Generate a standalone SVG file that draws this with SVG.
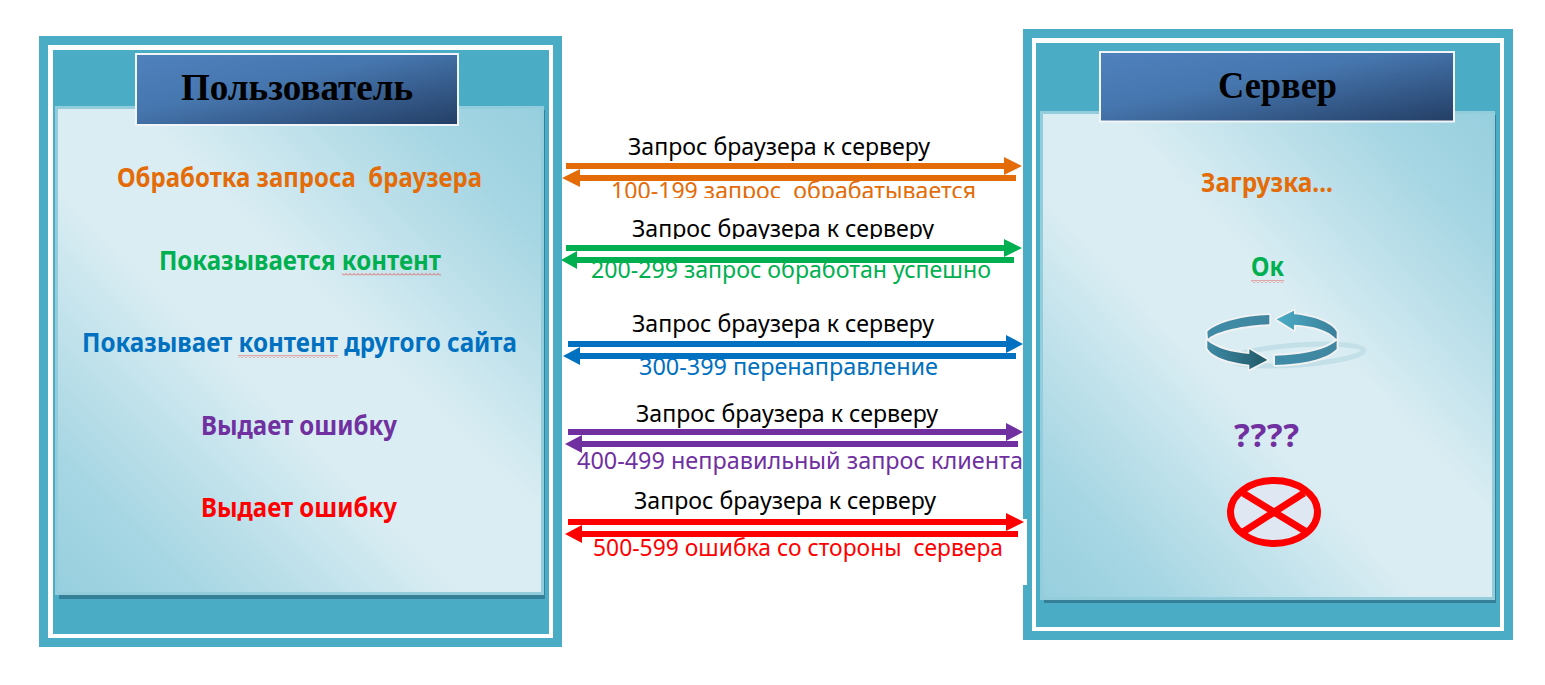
<svg xmlns="http://www.w3.org/2000/svg" width="1545" height="685" viewBox="0 0 1545 685">
<style>
.frame{fill:#4BACC6}
.gap{fill:#fff}
.shadow{fill:#367F98}
.panel{fill:url(#panelGrad);stroke:#93CDDC;stroke-width:3}
.titlebox{fill:url(#titleGrad);stroke:#F2F5F8;stroke-width:4;paint-order:stroke}
.title{font-family:"Liberation Serif",serif;font-weight:700;fill:#000;font-size:37px}
.t{font-family:"Noto Sans","Open Sans",sans-serif;font-size:23px;white-space:pre}
.b{font-family:"Noto Sans","Open Sans",sans-serif;font-size:26px;font-weight:700;white-space:pre}
.k{fill:#000}.o{fill:#E36C09}.g{fill:#00B050}.bl{fill:#0070C0}.p{fill:#7030A0}.r{fill:#FF0000}
.wave{fill:url(#wave)}
.band{stroke:#F2F2F2;stroke-width:11;paint-order:stroke;stroke-linejoin:round}
</style>
<defs>
<linearGradient id="panelGrad" x1="1" y1="0" x2="0" y2="1">
<stop offset="0" stop-color="#97CFDE"/><stop offset=".14" stop-color="#A6D6E3"/><stop offset=".42" stop-color="#DAEDF3"/><stop offset=".58" stop-color="#DAEDF3"/><stop offset=".86" stop-color="#A6D6E3"/><stop offset="1" stop-color="#97CFDE"/>
</linearGradient>
<linearGradient id="titleGrad" x1="0" y1="0" x2="1" y2="1">
<stop offset="0" stop-color="#4F81BD"/><stop offset=".42" stop-color="#4676AE"/><stop offset="1" stop-color="#243F66"/>
</linearGradient>
<linearGradient id="c1" x1="0" y1="0" x2="1" y2="0"><stop offset="0" stop-color="#4BACC6"/><stop offset="1" stop-color="#3A7F9A"/></linearGradient>
<linearGradient id="c2" x1="0" y1="0" x2="1" y2="0"><stop offset="0" stop-color="#3E8AA5"/><stop offset="1" stop-color="#215968"/></linearGradient>
<linearGradient id="c3" x1="0" y1="0" x2="1" y2="0"><stop offset="0" stop-color="#3F8CA8"/><stop offset="1" stop-color="#41869F"/></linearGradient>
<pattern id="wave" patternUnits="userSpaceOnUse" width="4" height="3"><path d="M0 2.5 L2 .5 L4 2.5" fill="none" stroke="#E8281E" stroke-width=".7"/></pattern>
<clipPath id="c100"><rect x="600" y="170" width="400" height="28"/></clipPath>
<clipPath id="c200"><rect x="620" y="210" width="330" height="29"/></clipPath>
</defs>
<rect width="1545" height="685" fill="#fff"/>

<g id="user">
<rect class="frame" x="39" y="36" width="523" height="611"/>
<rect class="gap" x="48" y="45" width="505" height="593"/>
<rect class="frame" x="53" y="50" width="496" height="584"/>
<rect class="shadow" x="59" y="110" width="486" height="489"/>
<rect class="panel" x="56.5" y="107.5" width="486" height="486"/>
<rect class="titlebox" x="137" y="55" width="320" height="69"/>
<text class="title" x="181" y="100" textLength="232" lengthAdjust="spacingAndGlyphs">Пользователь</text>
<text class="b o" x="117" y="187" textLength="365" lengthAdjust="spacingAndGlyphs">Обработка запроса  браузера</text>
<text class="b g" x="159" y="270" textLength="282" lengthAdjust="spacingAndGlyphs">Показывается контент</text>
<rect class="wave" x="342" y="273" width="99" height="3"/>
<text class="b bl" x="82" y="352" textLength="435" lengthAdjust="spacingAndGlyphs">Показывает контент другого сайта</text>
<rect class="wave" x="238" y="355" width="100" height="3"/>
<text class="b p" x="201" y="435" textLength="196" lengthAdjust="spacingAndGlyphs">Выдает ошибку</text>
<text class="b r" x="201" y="517" textLength="196" lengthAdjust="spacingAndGlyphs">Выдает ошибку</text>
</g>

<g id="server">
<rect class="frame" x="1023" y="29" width="490" height="611"/>
<rect class="gap" x="1032" y="38" width="472" height="593"/>
<rect class="frame" x="1036" y="43" width="464" height="584"/>
<rect class="shadow" x="1044" y="115" width="452" height="488"/>
<rect class="panel" x="1041.5" y="112.5" width="452" height="486"/>
<rect class="titlebox" x="1101" y="53" width="352" height="67.5"/>
<text class="title" x="1218" y="98" textLength="119" lengthAdjust="spacingAndGlyphs">Сервер</text>
<text class="b o" x="1201" y="192" textLength="132" lengthAdjust="spacingAndGlyphs">Загрузка...</text>
<text class="b g" x="1251" y="276" textLength="33" lengthAdjust="spacingAndGlyphs">Ок</text>
<rect class="wave" x="1251" y="280" width="33" height="3"/>
<g id="cycle" transform="translate(1180 290) scale(.3333)">
<ellipse cx="352" cy="195" rx="200" ry="30" transform="rotate(-4 352 195)" fill="none" stroke="#C3E0E9" stroke-width="15"/>
<path class="band" fill="url(#c3)" d="M82 125 C115 95 190 78 268 75 L268 103 C190 106 115 122 84 146 Z"/>
<path class="band" fill="url(#c1)" d="M290 88 L342 62 L342 73 C400 78 455 98 470 125 L470 148 C445 120 400 107 342 104 L342 120 Z"/>
<path class="band" fill="url(#c3)" d="M285 197 C370 195 440 178 470 152 L470 177 C440 208 370 222 285 225 Z"/>
<path class="band" fill="url(#c2)" d="M82 152 C110 175 155 187 208 192 L208 178 L262 210 L208 238 L208 224 C145 218 95 200 82 175 Z"/>
</g>
<text class="b p" x="1234" y="447" style="font-size:33px" textLength="65" lengthAdjust="spacing">????</text>
<g id="stop" fill="#DFE7F2" stroke="#FF0000" stroke-width="7">
<ellipse cx="1274" cy="512" rx="43.5" ry="31.5"/>
<path d="M1243 493 L1305 531 M1304 493 L1243 532" fill="none"/>
</g>
</g>
<rect class="gap" x="1023" y="519" width="4" height="66"/>

<g id="connector-labels">
<text class="t k" x="628" y="155" textLength="302" lengthAdjust="spacingAndGlyphs">Запрос браузера к серверу</text>
<g clip-path="url(#c100)"><text class="t o" x="611" y="199" textLength="365" lengthAdjust="spacingAndGlyphs">100-199 запрос  обрабатывается</text></g>
<g clip-path="url(#c200)"><text class="t k" x="632" y="237" textLength="302" lengthAdjust="spacingAndGlyphs">Запрос браузера к серверу</text></g>
<text class="t g" x="591" y="278" textLength="400" lengthAdjust="spacingAndGlyphs">200-299 запрос обработан успешно</text>
<text class="t k" x="632" y="332" textLength="302" lengthAdjust="spacingAndGlyphs">Запрос браузера к серверу</text>
<text class="t bl" x="639" y="375" textLength="299" lengthAdjust="spacingAndGlyphs">300-399 перенаправление</text>
<text class="t k" x="636" y="422" textLength="302" lengthAdjust="spacingAndGlyphs">Запрос браузера к серверу</text>
<text class="t p" x="577" y="469" textLength="446" lengthAdjust="spacingAndGlyphs">400-499 неправильный запрос клиента</text>
<text class="t k" x="634" y="509" textLength="302" lengthAdjust="spacingAndGlyphs">Запрос браузера к серверу</text>
<text class="t r" x="593" y="556" textLength="410" lengthAdjust="spacingAndGlyphs">500-599 ошибка со стороны  сервера</text>
</g>

<g id="connectors">
<path class="o" d="M566 163 H1004 V157 L1022 166 L1004 175 V169 H566 Z"/>
<path class="o" d="M1016 175 H580 V169 L562 178 L580 187 V181 H1016 Z"/>
<path class="g" d="M566 245 H1004 V239 L1022 248 L1004 257 V251 H566 Z"/>
<path class="g" d="M1014 257 H577 V251 L561 260 L577 269 V263 H1014 Z"/>
<path class="bl" d="M568 341 H1006 V335 L1023 344 L1006 353 V347 H568 Z"/>
<path class="bl" d="M1016 353 H580 V347 L563 356 L580 365 V359 H1016 Z"/>
<path class="p" d="M568 429 H1006 V423 L1023 432 L1006 441 V435 H568 Z"/>
<path class="p" d="M1018 441 H582 V435 L565 444 L582 453 V447 H1018 Z"/>
<path class="r" d="M568 519 H1006 V513 L1024 522 L1006 531 V525 H568 Z"/>
<path class="r" d="M1018 531 H582 V525 L565 534 L582 543 V537 H1018 Z"/>
</g>
</svg>
